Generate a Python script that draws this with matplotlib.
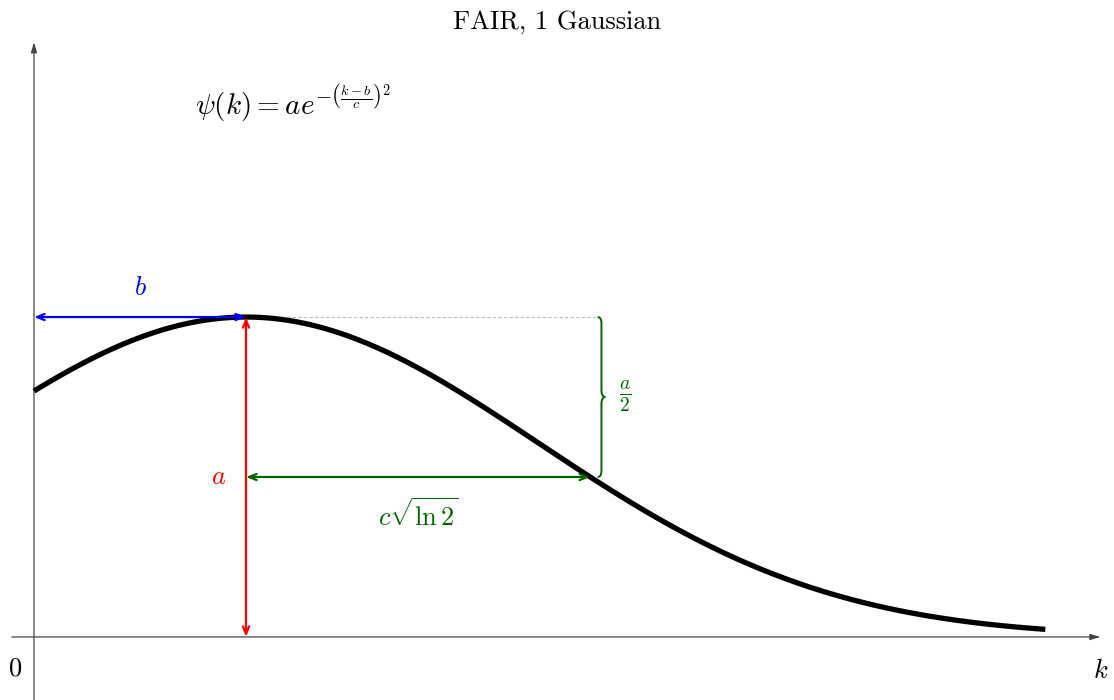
import numpy as np
import matplotlib.pyplot as plt
from matplotlib.path import Path
from matplotlib.patches import PathPatch

plt.rcParams['mathtext.fontset'] = 'cm'

# gaussian parameters
a = 1.0
b = 1.0
c = 1.95
k_end = 4.77
title = 'FAIR, 1 Gaussian'
formula = r'$\psi(k) = a e^{-\left(\frac{k-b}{c}\right)^2}$'

k = np.linspace(0, k_end, 400)
psi = a * np.exp(-((k - b) / c) ** 2)
half = b + c * np.sqrt(np.log(2))

fig = plt.figure(figsize=(11.14, 7), dpi=100)
ax = fig.add_axes([0, 0, 1, 1])
ax.set_xlim(-0.1604, 5.094)
ax.set_ylim(-0.197, 1.991)
ax.axis('off')

# axes with arrows
axcol = '#444444'
ax.annotate('', xy=(5.03, 0), xytext=(-0.104, 0),
            arrowprops=dict(arrowstyle='-|>,head_length=0.6,head_width=0.18', color=axcol, lw=0.9, shrinkA=0, shrinkB=0))
ax.annotate('', xy=(0, 1.859), xytext=(0, -0.2),
            arrowprops=dict(arrowstyle='-|>,head_length=0.6,head_width=0.18', color=axcol, lw=0.9, shrinkA=0, shrinkB=0))

ax.plot(k, psi, color='black', lw=3.8, solid_capstyle='butt', zorder=3)

# dotted guide at the peak
ax.plot([b + 0.06, half + 0.03], [a, a], color='#bbbbbb', lw=0.8, ls=(0, (3, 2)), zorder=1)

ah = '<->,head_length=0.55,head_width=0.22'
ax.annotate('', xy=(b, a), xytext=(0, a),
            arrowprops=dict(arrowstyle=ah, color='blue', lw=1.6, shrinkA=0, shrinkB=0), zorder=4)
ax.annotate('', xy=(b, a), xytext=(b, 0),
            arrowprops=dict(arrowstyle=ah, color='red', lw=1.6, shrinkA=0, shrinkB=0), zorder=4)
ax.annotate('', xy=(half, a / 2), xytext=(b, a / 2),
            arrowprops=dict(arrowstyle=ah, color='darkgreen', lw=1.6, shrinkA=0, shrinkB=0), zorder=4)

# curly brace from a down to a/2
x0 = half + 0.035
w = 0.018
r = 0.02
top, bot = a, a / 2
mid = (top + bot) / 2
verts = [(x0, top), (x0 + w, top), (x0 + w, top - r),
         (x0 + w, mid + r),
         (x0 + w, mid + r * 0.4), (x0 + w * 1.4, mid), (x0 + 2 * w, mid),
         (x0 + w * 1.4, mid), (x0 + w, mid - r * 0.4), (x0 + w, mid - r),
         (x0 + w, bot + r),
         (x0 + w, bot), (x0, bot)]
codes = [Path.MOVETO, Path.CURVE3, Path.CURVE3,
         Path.LINETO,
         Path.CURVE4, Path.CURVE4, Path.CURVE4,
         Path.CURVE4, Path.CURVE4, Path.CURVE4,
         Path.LINETO,
         Path.CURVE3, Path.CURVE3]
ax.add_patch(PathPatch(Path(verts, codes), fill=False, ec='darkgreen', lw=1.4))

ax.text(x0 + 5.5 * w, mid, r'$\frac{a}{2}$', color='darkgreen', fontsize=20, ha='left', va='center')
ax.text(b / 2, a + 0.09, r'$b$', color='blue', fontsize=19, ha='center', va='center')
ax.text(b - 0.13, a / 2, r'$a$', color='red', fontsize=19, ha='center', va='center')
ax.text((b + half) / 2, a / 2 - 0.12, r'$c\sqrt{\ln 2}$', color='darkgreen', fontsize=19, ha='center', va='center')

ax.text(-0.09, -0.1, r'$0$', fontsize=19, ha='center', va='center')
ax.text(5.03, -0.105, r'$k$', fontsize=19, ha='center', va='center')

fig.text(0.5, 1 - 22 / 700, title, fontsize=19, fontfamily='cmr10', ha='center', va='center')
ax.text(0.76, 1.665, formula, fontsize=21, ha='left', va='center')

fig.savefig('out.png', dpi=100)
